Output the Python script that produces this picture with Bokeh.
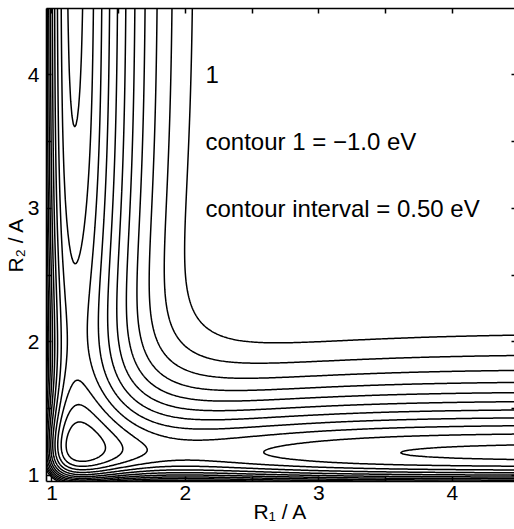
import numpy as np
from bokeh.plotting import figure
from bokeh.models import Range1d, FixedTicker, LinearAxis, Label
from bokeh.embed import file_html
from bokeh.resources import INLINE

# ---------------- chart values ----------------
contour_levels = [-6.5, -6.0, -5.5, -5.0, -4.5, -4.0, -3.5, -3.0, -2.5, -2.0, -1.5, -1.0]  # eV
major_ticks = [1, 2, 3, 4]
minor_ticks = [1.5, 2.5, 3.5, 4.5]
notes = ["1", "contour 1 = \u22121.0 eV", "contour interval = 0.50 eV"]
x_title = "R\u2081 / A"
y_title = "R\u2082 / A"

# model surface: diatomic Morse curves in R1 and R2 plus a three-body term
morse_De = 6.2      # eV
morse_re = 1.17     # A
morse_a = 2.77      # 1/A
tb_A = 5.56         # eV
tb_binf = 1.45      # 1/A
tb_delta = 0.813    # 1/A
tb_lambda = 0.35    # A
tb_g = 0.15         # 1/A^2

r_grid = np.linspace(0.90, 4.60, 371)


def morse(r):
    u = np.exp(-morse_a * (r - morse_re))
    return morse_De * ((1.0 - u) ** 2 - 1.0)


def f_decay(r):
    d = r - morse_re
    return tb_binf * d - tb_delta * tb_lambda * (1.0 - np.exp(-d / tb_lambda))


R1, R2 = np.meshgrid(r_grid, r_grid)
V = (morse(R1) + morse(R2)
     + tb_A * np.exp(-f_decay(R1) - f_decay(R2) + tb_g * (R1 - morse_re) * (R2 - morse_re)))

FONT = "Liberation Sans"

p = figure(width=514, height=529, output_backend="svg", toolbar_location=None,
           x_range=Range1d(0.959, 4.465), y_range=Range1d(0.955, 4.498),
           min_border_left=46, min_border_right=0, min_border_top=8, min_border_bottom=48)
p.grid.visible = False
p.outline_line_color = None
p.background_fill_color = "white"
p.border_fill_color = "white"

p.contour(r_grid, r_grid, V, contour_levels, line_color="black", line_width=1.5)


def style_axis(ax, show_labels):
    ax.ticker = FixedTicker(ticks=major_ticks, minor_ticks=minor_ticks)
    ax.major_tick_in = 5
    ax.major_tick_out = 0
    ax.minor_tick_in = 5
    ax.minor_tick_out = 0
    ax.axis_line_color = "black"
    ax.axis_line_width = 1.6
    ax.major_tick_line_color = "black"
    ax.minor_tick_line_color = "black"
    ax.major_tick_line_width = 1.5
    ax.minor_tick_line_width = 1.5
    if show_labels:
        ax.major_label_text_font = FONT
        ax.major_label_text_font_size = "21px"
        ax.major_label_text_color = "black"
        ax.axis_label_text_font = FONT
        ax.axis_label_text_font_size = "21px"
        ax.axis_label_text_font_style = "normal"
        ax.axis_label_text_color = "black"
    else:
        ax.major_label_text_color = None
        ax.major_label_standoff = 0


style_axis(p.xaxis[0], True)
style_axis(p.yaxis[0], True)
p.xaxis[0].axis_label = x_title
p.yaxis[0].axis_label = y_title
p.xaxis[0].major_label_standoff = 4
p.xaxis[0].axis_label_standoff = -3
p.yaxis[0].major_label_standoff = 7
p.yaxis[0].axis_label_standoff = -2

top_ax = LinearAxis()
style_axis(top_ax, False)
p.add_layout(top_ax, "above")

right_ax = LinearAxis()
style_axis(right_ax, False)
right_ax.axis_line_color = None
right_ax.major_tick_in = 3
right_ax.minor_tick_in = 3
p.add_layout(right_ax, "right")

note_pos = [(2.15, 4.0), (2.15, 3.5), (2.15, 3.0)]
for txt, (nx, ny) in zip(notes, note_pos):
    p.add_layout(Label(x=nx, y=ny, text=txt, text_font=FONT, text_font_size="24px",
                       text_color="black", text_baseline="alphabetic", text_align="left"))

open("out.html", "w").write(file_html(p, INLINE))
